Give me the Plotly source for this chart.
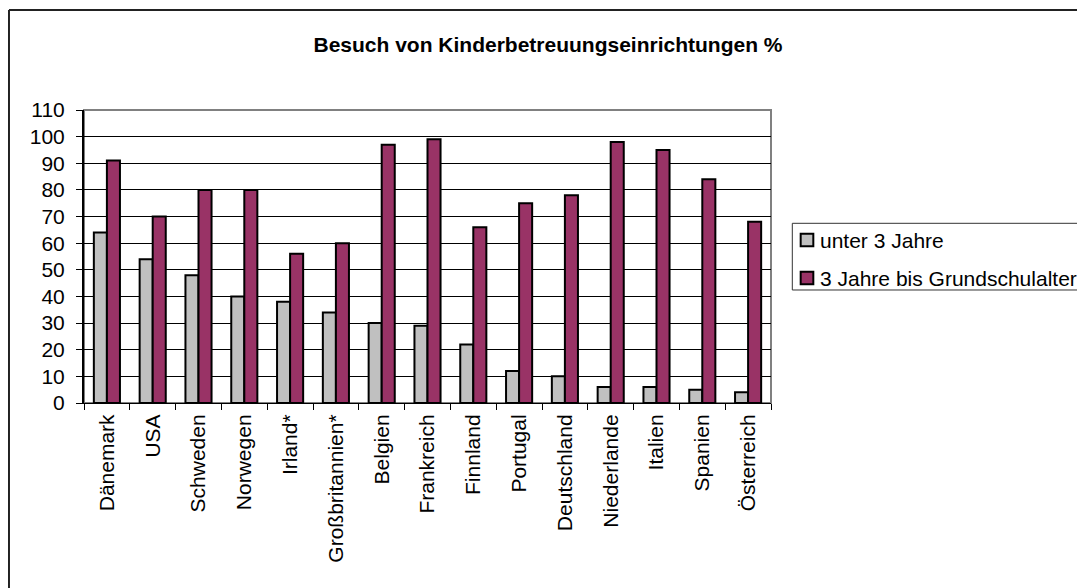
import plotly.graph_objects as go

# Kinderbetreuung: Anteil der Kinder in Einrichtungen (%)
countries = [
    "Dänemark", "USA", "Schweden", "Norwegen", "Irland*", "Großbritannien*",
    "Belgien", "Frankreich", "Finnland", "Portugal", "Deutschland",
    "Niederlande", "Italien", "Spanien", "Österreich",
]
under_3 = [64, 54, 48, 40, 38, 34, 30, 29, 22, 12, 10, 6, 6, 5, 4]
age_3_to_school = [91, 70, 80, 80, 56, 60, 97, 99, 66, 75, 78, 98, 95, 84, 68]
series_names = ["unter 3 Jahre", "3 Jahre bis Grundschulalter"]
y_ticks = list(range(0, 111, 10))

FONT = "Liberation Sans, Arial, sans-serif"
GREY = "#C0C0C0"
MAROON = "#993366"
colors = [GREY, MAROON]

fig = go.Figure()
for name, values, color in zip(series_names, [under_3, age_3_to_school], colors):
    fig.add_trace(go.Bar(
        x=countries, y=values, name=name,
        marker=dict(color=color, line=dict(color="black", width=2)),
    ))

# plot area box (grey top/right) and the outer chart frame
shapes = [
    dict(type="rect", xref="paper", yref="paper", x0=0, x1=1, y0=0, y1=1,
         line=dict(color="#808080", width=2), layer="below"),
    dict(type="line", xref="paper", yref="paper", x0=-0.1092, x1=-0.1092,
         y0=-1, y1=1.3413, line=dict(color="#222", width=2)),
    dict(type="line", xref="paper", yref="paper", x0=-0.1092, x1=2,
         y0=1.3413, y1=1.3413, line=dict(color="#222", width=2)),
    # legend box
    dict(type="rect", xref="paper", yref="paper", x0=1.031, x1=1.6,
         y0=0.3857, y1=0.6133, line=dict(color="#333", width=1),
         fillcolor="white"),
]
annotations = []
legend_y = [0.5563, 0.4266]
for name, color, ly in zip(series_names, colors, legend_y):
    shapes.append(dict(
        type="rect", xref="paper", yref="paper", x0=1.0432, x1=1.0616,
        y0=ly - 0.0215, y1=ly + 0.0215, fillcolor=color,
        line=dict(color="black", width=2),
    ))
    annotations.append(dict(
        text=name, xref="paper", yref="paper", x=1.068, y=ly,
        xanchor="left", yanchor="middle", showarrow=False,
        font=dict(size=21, family=FONT, color="black"),
    ))

fig.update_layout(
    width=1077, height=580,
    margin=dict(l=76, r=314, t=102, b=185),
    paper_bgcolor="white", plot_bgcolor="white",
    font=dict(family=FONT, size=21, color="black"),
    title=dict(
        text="<b>Besuch von Kinderbetreuungseinrichtungen %</b>",
        x=0.5014, xanchor="center", xref="container",
        y=0.936, yanchor="middle", yref="container",
        font=dict(size=21, family=FONT, color="black"),
    ),
    barmode="group", bargap=0.43, bargroupgap=0,
    showlegend=False,
    shapes=shapes,
    annotations=annotations,
)
fig.update_xaxes(
    tickangle=-90, tickson="boundaries", ticks="outside", ticklen=6,
    tickcolor="black", showline=True, linecolor="black", linewidth=1,
    showgrid=False, tickfont=dict(size=21), ticklabelstandoff=2,
)
fig.update_yaxes(
    range=[0, 110], tickvals=y_ticks, ticks="outside", ticklen=6,
    tickcolor="black", showline=True, linecolor="black", linewidth=2,
    showgrid=True, gridcolor="black", gridwidth=1, zeroline=False,
    tickfont=dict(size=21), ticklabelstandoff=7,
)

fig.write_html("out.html")
